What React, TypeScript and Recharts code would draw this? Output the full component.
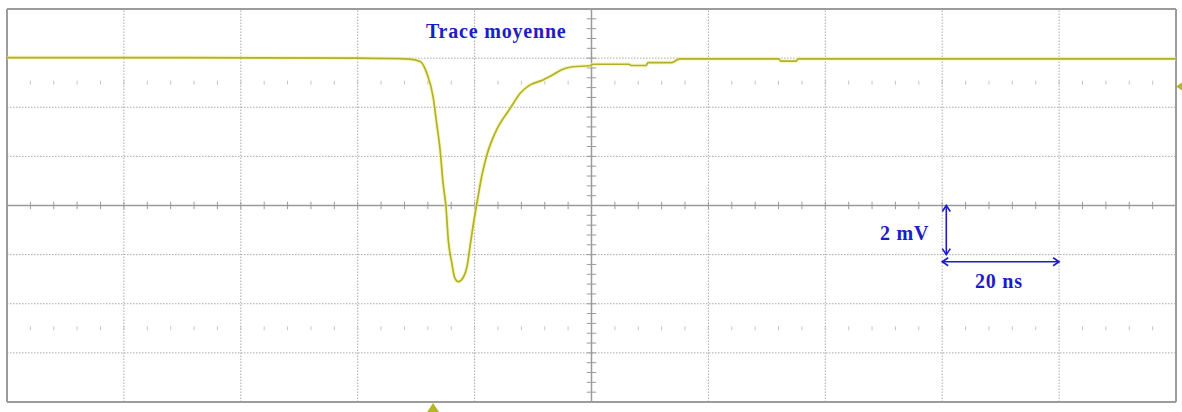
import React from "react";
import { LineChart, Line, XAxis, YAxis, ReferenceLine, ReferenceDot } from "recharts";

// averaged trace (20 ns/div, 2 mV/div)
const timeNs = [
  0, 30, 60, 68.9, 70.7, 71.8, 72.9, 73.5, 74.1, 74.6, 75.1, 75.5, 76.1, 76.6, 77.2, 78.1, 78.7, 79.3,
  79.9, 80.4, 81.2, 82.1, 83.6, 86.1, 87.8, 89.5, 91.7, 93.4, 95.1, 96.8, 99.7, 100.3, 106.4, 106.8,
  109.3, 109.7, 113.7, 115.1, 132.0, 132.4, 135.0, 135.4, 200,
];
const voltageMv = [
  6.02, 6.02, 6.0, 5.96, 5.86, 5.4, 4.42, 3.36, 2.26, 0.92, -0.05, -1.41, -2.34, -2.95, -3.1, -2.91, -2.49, -1.53,
  -0.59, 0.1, 1.17, 2.06, 3.0, 3.96, 4.57, 4.91, 5.11, 5.32, 5.55, 5.65, 5.69, 5.75, 5.75, 5.7,
  5.7, 5.82, 5.82, 5.97, 5.97, 5.88, 5.88, 5.97, 5.97,
];

const gridTimes = [20, 40, 60, 80, 120, 140, 160, 180];
const gridVolts = [-6, -4, -2, 2, 4, 6];
const minorTimes = Array.from({ length: 51 }, (_, i) => i * 4);
const minorVolts = Array.from({ length: 41 }, (_, i) => -8 + i * 0.4);
const markerRows = [5, -5];

const trace = timeNs.map((t, i) => ({ t, v: voltageMv[i] }));

const GRID = "#a9a9a9";
const BLUE = "#1c1cc8";
const TRACE = "#b0b02e";

const label = (text: string, size: number, anchor: "start" | "middle" | "end" = "middle") =>
  (p: any) => (
    <text x={p.cx} y={p.cy} fill={BLUE} fontFamily="'Liberation Serif', serif" fontWeight="bold"
      fontSize={size} textAnchor={anchor} letterSpacing={0.8}>
      {text}
    </text>
  );

const arrow = (p: any) => {
  const { x1, y1, x2, y2 } = p;
  const dx = x2 - x1, dy = y2 - y1;
  const len = Math.hypot(dx, dy) || 1;
  const ux = dx / len, uy = dy / len;
  const h = 6, w = 4;
  const head = (x: number, y: number, s: number) =>
    `M${x + s * ux * h - uy * w},${y + s * uy * h + ux * w} L${x},${y} L${x + s * ux * h + uy * w},${y + s * uy * h - ux * w}`;
  return (
    <g stroke={BLUE} strokeWidth={1.6} fill="none">
      <line x1={x1} y1={y1} x2={x2} y2={y2} />
      <path d={head(x1, y1, 1)} />
      <path d={head(x2, y2, -1)} />
    </g>
  );
};

export default function App() {
  return (
    <div style={{ position: "absolute", left: 0, top: 0, width: 1182, height: 412, background: "#fff" }}>
      <LineChart width={1182} height={412} data={trace} margin={{ top: 9, right: 6, bottom: 10, left: 7 }}>
        <XAxis dataKey="t" type="number" domain={[0, 200]} hide allowDataOverflow />
        <YAxis type="number" domain={[-8, 8]} hide allowDataOverflow />

        {gridTimes.map((t) => (
          <ReferenceLine key={`gx${t}`} x={t} stroke={GRID} strokeDasharray="1.5 1.5" />
        ))}
        {gridVolts.map((v) => (
          <ReferenceLine key={`gy${v}`} y={v} stroke={GRID} strokeDasharray="1.5 1.5" />
        ))}
        {markerRows.map((v) =>
          minorTimes.slice(1, -1).map((t) => (
            <ReferenceLine key={`m${v}-${t}`} segment={[{ x: t, y: v - 0.08 }, { x: t, y: v + 0.08 }]}
              stroke="#c4c4c4" strokeWidth={1} />
          ))
        )}

        <ReferenceLine x={100} stroke="#9a9a9a" strokeWidth={1.5} />
        <ReferenceLine y={0} stroke="#9a9a9a" strokeWidth={1.5} />
        {minorTimes.map((t) => (
          <ReferenceLine key={`tx${t}`} segment={[{ x: t, y: -0.15 }, { x: t, y: 0.15 }]} stroke="#9a9a9a" strokeWidth={1} />
        ))}
        {minorVolts.map((v) => (
          <ReferenceLine key={`ty${v.toFixed(1)}`} segment={[{ x: 99.2, y: v }, { x: 100.8, y: v }]} stroke="#9a9a9a" strokeWidth={1} />
        ))}

        <ReferenceLine x={0} stroke="#9c9c9c" strokeWidth={2} />
        <ReferenceLine x={200} stroke="#9c9c9c" strokeWidth={2} />
        <ReferenceLine y={8} stroke="#9c9c9c" strokeWidth={2} />
        <ReferenceLine y={-8} stroke="#9c9c9c" strokeWidth={2} />

        <Line dataKey="v" type="monotone" stroke="#f2f28c" strokeWidth={4} strokeOpacity={0.55} dot={false} isAnimationActive={false} />
        <Line dataKey="v" type="monotone" stroke={TRACE} strokeWidth={1.7} dot={false} isAnimationActive={false} />

        <ReferenceLine segment={[{ x: 160.7, y: 0 }, { x: 160.7, y: -2 }]} shape={arrow} ifOverflow="visible" />
        <ReferenceLine segment={[{ x: 160, y: -2.29 }, { x: 180, y: -2.29 }]} shape={arrow} ifOverflow="visible" />

        <ReferenceDot x={83.7} y={6.8} r={0} shape={label("Trace moyenne", 20)} ifOverflow="visible" />
        <ReferenceDot x={157.8} y={-1.41} r={0} shape={label("2 mV", 20, "end")} ifOverflow="visible" />
        <ReferenceDot x={169.7} y={-3.36} r={0} shape={label("20 ns", 20)} ifOverflow="visible" />

        <ReferenceDot x={200} y={4.84} r={0} ifOverflow="visible"
          shape={(p: any) => <path d={`M${p.cx},${p.cy} l6,-4 l0,8 z`} fill="#b5b52a" />} />
        <ReferenceDot x={72.9} y={-8} r={0} ifOverflow="visible"
          shape={(p: any) => <path d={`M${p.cx},${p.cy + 1} l-6,9 l12,0 z`} fill="#b5b52a" />} />
      </LineChart>
    </div>
  );
}
